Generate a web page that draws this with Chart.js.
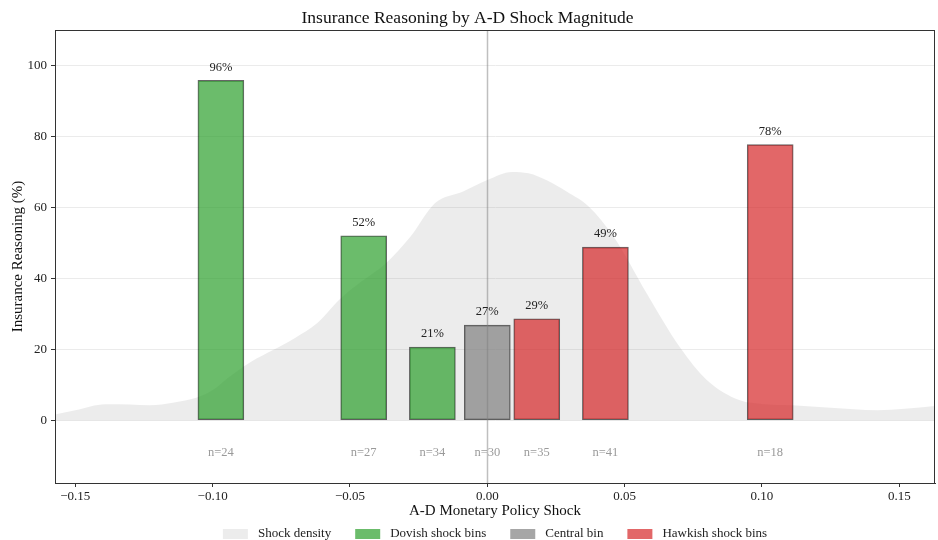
<!DOCTYPE html>
<html>
<head>
<meta charset="utf-8">
<title>Insurance Reasoning by A-D Shock Magnitude</title>
<script src="https://cdn.jsdelivr.net/npm/chart.js@4.4.1/dist/chart.umd.min.js"></script>
<style>
  html, body { margin: 0; padding: 0; background: #fff; }
  #wrap { width: 938px; height: 540px; }
</style>
</head>
<body>
<div id="wrap"><canvas id="chart" width="938" height="540"></canvas></div>
<script>
// Bin data
var binCenters = [-0.097, -0.045, -0.020, 0.000, 0.018, 0.043, 0.103];
var binShares  = [95.8, 52.0, 20.6, 26.8, 28.6, 48.8, 77.7];
var binCounts  = [24, 27, 34, 30, 35, 41, 18];
var binGroups  = ['dovish', 'dovish', 'dovish', 'central', 'hawkish', 'hawkish', 'hawkish'];

// Shock density curve (scaled to the percent axis)
var densityX = [-0.157, -0.150, -0.139, -0.130, -0.123, -0.114, -0.106, -0.100, -0.094, -0.086,
                -0.078, -0.070, -0.062, -0.054, -0.046, -0.037, -0.028, -0.019, -0.009, 0.000,
                 0.009, 0.015, 0.022, 0.029, 0.037, 0.046, 0.058, 0.070, 0.080, 0.092,
                 0.100, 0.111, 0.125, 0.142, 0.152, 0.163];
var densityY = [1.7, 2.8, 4.5, 4.4, 4.2, 5.0, 6.3, 8.5, 12.2, 16.5,
                19.8, 23.2, 27.3, 33.9, 39.0, 44.2, 51.7, 61.2, 64.4, 67.7,
                70.0, 69.6, 67.5, 64.4, 60.2, 51.7, 35.8, 20.7, 11.3, 5.6,
                4.6, 4.2, 3.5, 2.8, 3.2, 4.0];

// Tick labels
var xTicks = [-0.15, -0.10, -0.05, 0.00, 0.05, 0.10, 0.15];
var yTicks = [0, 20, 40, 60, 80, 100];

var SERIF = "'Liberation Serif', 'DejaVu Serif', serif";
var nLabelY = -9.3;

var groupStyle = {
    dovish:  { label: 'Dovish shock bins',  color: 'rgba(44,160,44,0.7)' },
    central: { label: 'Central bin',        color: 'rgba(128,128,128,0.7)' },
    hawkish: { label: 'Hawkish shock bins', color: 'rgba(214,39,40,0.7)' }
};

function groupPoints(name) {
    var pts = [];
    for (var i = 0; i < binCenters.length; i++) {
        if (binGroups[i] === name) pts.push({ x: binCenters[i], y: binShares[i] });
    }
    return pts;
}

var densityPoints = densityX.map(function (x, i) { return { x: x, y: densityY[i] }; });

var datasets = [{
    type: 'line',
    label: 'Shock density',
    data: densityPoints,
    fill: 'origin',
    backgroundColor: 'rgba(128,128,128,0.15)',
    borderWidth: 0,
    pointRadius: 0,
    cubicInterpolationMode: 'monotone',
    order: 10
}];
['dovish', 'central', 'hawkish'].forEach(function (g) {
    datasets.push({
        type: 'bar',
        label: groupStyle[g].label,
        data: groupPoints(g),
        backgroundColor: groupStyle[g].color,
        borderColor: 'rgba(0,0,0,0.6)',
        borderWidth: 1,
        borderSkipped: false,
        barThickness: 46,
        grouped: false,
        order: 1
    });
});

// Zero line, bar annotations, frame and legend
var decorations = {
    id: 'decorations',
    afterDatasetsDraw: function (chart) {
        var ctx = chart.ctx, x = chart.scales.x, y = chart.scales.y, area = chart.chartArea;
        ctx.save();
        // vertical reference line at zero
        ctx.strokeStyle = 'rgba(128,128,128,0.5)';
        ctx.lineWidth = 1.5;
        ctx.beginPath();
        ctx.moveTo(Math.round(x.getPixelForValue(0)) + 0.5, area.top);
        ctx.lineTo(Math.round(x.getPixelForValue(0)) + 0.5, area.bottom);
        ctx.stroke();

        ctx.textAlign = 'center';
        ctx.textBaseline = 'middle';
        for (var i = 0; i < binCenters.length; i++) {
            var px = x.getPixelForValue(binCenters[i]);
            ctx.fillStyle = '#222';
            ctx.font = '12.5px ' + SERIF;
            ctx.fillText(Math.round(binShares[i]) + '%', px, y.getPixelForValue(binShares[i]) - 13);
            ctx.fillStyle = '#9a9a9a';
            ctx.font = '12.5px ' + SERIF;
            ctx.fillText('n=' + binCounts[i], px, y.getPixelForValue(nLabelY));
        }
        ctx.restore();
    },
    afterDraw: function (chart) {
        var ctx = chart.ctx, area = chart.chartArea;
        ctx.save();
        ctx.strokeStyle = '#333';
        ctx.lineWidth = 1;
        ctx.strokeRect(Math.round(area.left) + 0.5, Math.round(area.top) + 0.5,
                       Math.round(area.right - area.left) - 1, Math.round(area.bottom - area.top));

        // legend
        ctx.font = '13px ' + SERIF;
        ctx.textBaseline = 'middle';
        ctx.textAlign = 'left';
        var items = chart.data.datasets.map(function (d) {
            return { text: d.label, color: d.backgroundColor, w: 25 + 10 + ctx.measureText(d.label).width };
        });
        var gap = 24;
        var total = items.reduce(function (s, it) { return s + it.w; }, 0) + gap * (items.length - 1);
        var cx = (area.left + area.right) / 2;
        var lx = cx - total / 2, ly = 534;
        items.forEach(function (it) {
            ctx.fillStyle = it.color;
            ctx.fillRect(lx, ly - 5, 25, 10);
            ctx.fillStyle = '#222';
            ctx.fillText(it.text, lx + 35, ly);
            lx += it.w + gap;
        });
        ctx.restore();
    }
};

var ctx = document.getElementById('chart').getContext('2d');
var chart = new Chart(ctx, {
    type: 'bar',
    data: { datasets: datasets },
    plugins: [decorations],
    options: {
        responsive: false,
        animation: false,
        layout: { padding: { left: 0, right: 3, top: 0, bottom: 20 } },
        plugins: {
            legend: { display: false },
            tooltip: { enabled: false },
            title: {
                display: true,
                text: 'Insurance Reasoning by A-D Shock Magnitude',
                color: '#111',
                font: { family: SERIF, size: 17.5, weight: 'normal' },
                padding: { top: 8, bottom: 1 }
            }
        },
        scales: {
            x: {
                type: 'linear',
                min: -0.1574,
                max: 0.163,
                offset: false,
                afterBuildTicks: function (scale) {
                    scale.ticks = xTicks.map(function (v) { return { value: v }; });
                },
                afterFit: function (scale) { scale.height = 37; },
                ticks: {
                    color: '#222',
                    font: { family: SERIF, size: 13 },
                    padding: 2,
                    maxRotation: 0,
                    callback: function (v) { return v.toFixed(2).replace('-', '\u2212'); }
                },
                grid: { offset: false, drawOnChartArea: false, tickLength: 4, tickColor: '#333' },
                border: { color: '#333' },
                title: {
                    display: true,
                    text: 'A-D Monetary Policy Shock',
                    color: '#111',
                    font: { family: SERIF, size: 15 },
                    padding: { top: 0, bottom: 0 }
                }
            },
            y: {
                min: -17.7,
                max: 110,
                afterBuildTicks: function (scale) {
                    scale.ticks = yTicks.map(function (v) { return { value: v }; });
                },
                afterFit: function (scale) { scale.width = 55; },
                ticks: {
                    color: '#222',
                    font: { family: SERIF, size: 13 },
                    padding: 4
                },
                grid: { color: '#ebebeb', lineWidth: 1, tickLength: 4, tickColor: '#333' },
                border: { color: '#333' },
                title: {
                    display: true,
                    text: 'Insurance Reasoning (%)',
                    color: '#111',
                    font: { family: SERIF, size: 15 },
                    padding: { top: 9, bottom: 0 }
                }
            }
        }
    }
});
</script>
</body>
</html>
